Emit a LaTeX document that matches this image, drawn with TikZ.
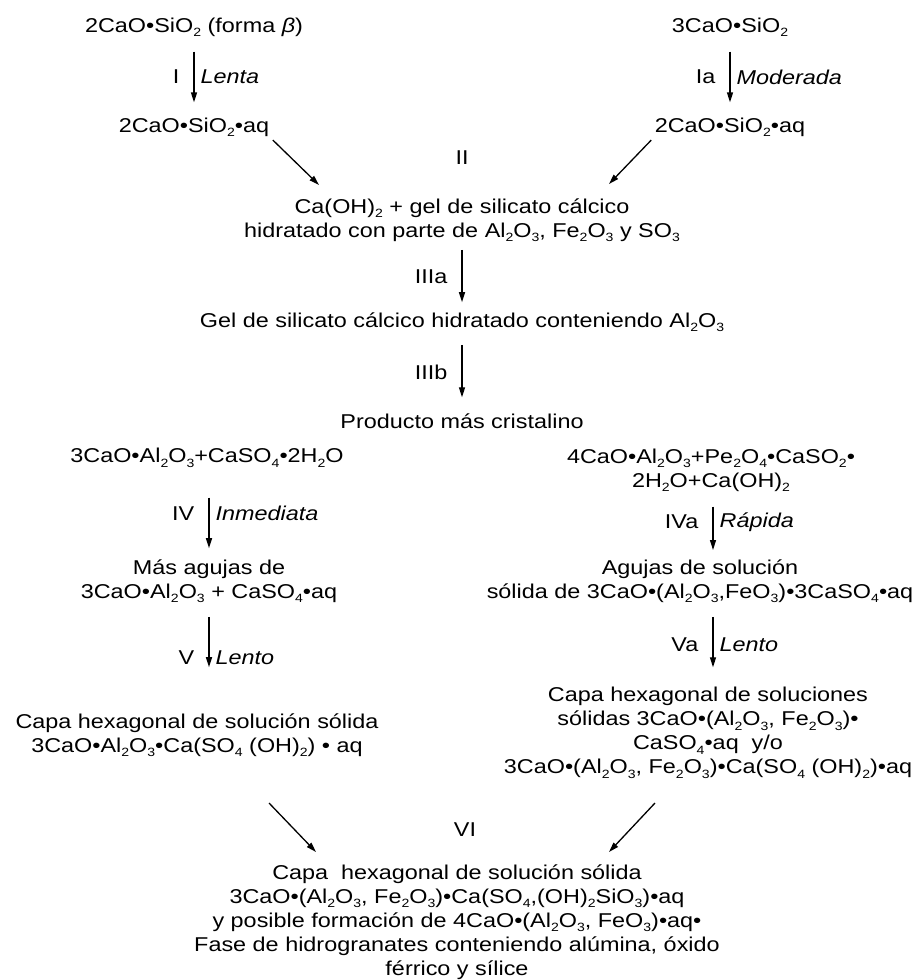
\documentclass[tikz,border=0pt]{standalone}
\usepackage{fontspec}
\setmainfont{Liberation Sans}[FakeStretch=1.17]
\usetikzlibrary{arrows.meta}
\newcommand{\dn}[1]{\raisebox{-0.22em}{\fontsize{12}{12}\selectfont #1}}

\begin{document}
\begin{tikzpicture}[x=1pt,y=-1pt,
  every node/.style={font=\fontsize{20}{24}\selectfont,align=center,inner sep=2pt},
  reac/.style 2 args={-{Triangle[length=10pt,width=6pt]},line width=1.3pt,shorten <=#1,shorten >=#2}]
\useasboundingbox (0,0) rectangle (918,980);
% Hidratacion de los silicatos
\node (bes) at (194,27) {2CaO•SiO\dn{2} (forma \textit{β})};
\node (tri) at (730,27) {3CaO•SiO\dn{2}};
\node (besaq) at (194,127) {2CaO•SiO\dn{2}•aq};
\node (triaq) at (730,127) {2CaO•SiO\dn{2}•aq};
\node (II) at (462,158) {II};
\node (hid) at (462,220) {Ca(OH)\dn{2} + gel de silicato cálcico\\hidratado con parte de Al\dn{2}O\dn{3}, Fe\dn{2}O\dn{3} y SO\dn{3}};
\node (gel) at (462,322) {Gel de silicato cálcico hidratado conteniendo Al\dn{2}O\dn{3}};
\node (prod) at (462,421) {Producto más cristalino};

\coordinate (iz) at (319,185);
\coordinate (de) at (609,184);

\draw[reac={13pt}{13pt}] (bes) -- (besaq) node[midway,left=12pt] {I} node[midway,right=4pt] {\textit{Lenta}};
\draw[reac={13pt}{13pt}] (tri) -- (triaq) node[midway,left=12pt] {Ia} node[midway,right=4pt] {\textit{Moderada}};
\draw[reac={2pt}{0pt}] (besaq.south east) -- (iz);
\draw[reac={2pt}{0pt}] (triaq.south west) -- (de);
\draw[reac={6pt}{8pt}] (hid) -- (gel) node[midway,left=12pt] {IIIa};
\draw[reac={11pt}{14pt}] (gel) -- (prod) node[midway,left=12pt] {IIIb};

% Hidratacion de los aluminatos
\node (ca) at (207,458) {3CaO•Al\dn{2}O\dn{3}+CaSO\dn{4}•2H\dn{2}O};
\node (caf) at (711,470) {4CaO•Al\dn{2}O\dn{3}+Pe\dn{2}O\dn{4}•CaSO\dn{2}•\\2H\dn{2}O+Ca(OH)\dn{2}};
\node (agi) at (209,581) {Más agujas de\\3CaO•Al\dn{2}O\dn{3} + CaSO\dn{4}•aq};
\node (agd) at (700,581) {Agujas de solución\\sólida de 3CaO•(Al\dn{2}O\dn{3},FeO\dn{3})•3CaSO\dn{4}•aq};
\node (capi) at (197,735) {Capa hexagonal de solución sólida\\3CaO•Al\dn{2}O\dn{3}•Ca(SO\dn{4} (OH)\dn{2}) • aq};
\node (capd) at (708,733) {Capa hexagonal de soluciones\\sólidas 3CaO•(Al\dn{2}O\dn{3}, Fe\dn{2}O\dn{3})•\\CaSO\dn{4}•aq~ y/o\\3CaO•(Al\dn{2}O\dn{3}, Fe\dn{2}O\dn{3})•Ca(SO\dn{4} (OH)\dn{2})•aq};
\node (VI) at (465,830) {VI};
\node (fin) at (457,922) {Capa~ hexagonal de solución sólida\\3CaO•(Al\dn{2}O\dn{3}, Fe\dn{2}O\dn{3})•Ca(SO\dn{4},(OH)\dn{2}SiO\dn{3})•aq\\y posible formación de 4CaO•(Al\dn{2}O\dn{3}, FeO\dn{3})•aq•\\Fase de hidrogranates conteniendo alúmina, óxido\\férrico y sílice};

\coordinate (vi1) at (269,803);
\coordinate (vi2) at (316,852);
\coordinate (vi3) at (655,803);
\coordinate (vi4) at (609,852);
\coordinate (ivt) at (713,550);

\draw[reac={28pt}{9pt}] (agi |- ca.south) -- (agi) node[midway,left=12pt] {IV} node[midway,right=4pt] {\textit{Inmediata}};
\draw[reac={13pt}{0pt}] (caf.south -| ivt) -- (ivt) node[midway,left=12pt] {IVa} node[midway,right=4pt] {\textit{Rápida}};
\draw[reac={12pt}{44pt}] (agi) -- (agi |- capi.north) node[midway,left=12pt] {V} node[midway,right=4pt] {\textit{Lento}};
\draw[reac={12pt}{18pt}] (agd.south -| ivt) -- (capd.north -| ivt) node[midway,left=12pt] {Va} node[midway,right=4pt] {\textit{Lento}};
\draw[reac={0pt}{0pt}] (vi1) -- (vi2);
\draw[reac={0pt}{0pt}] (vi3) -- (vi4);
\end{tikzpicture}
\end{document}
